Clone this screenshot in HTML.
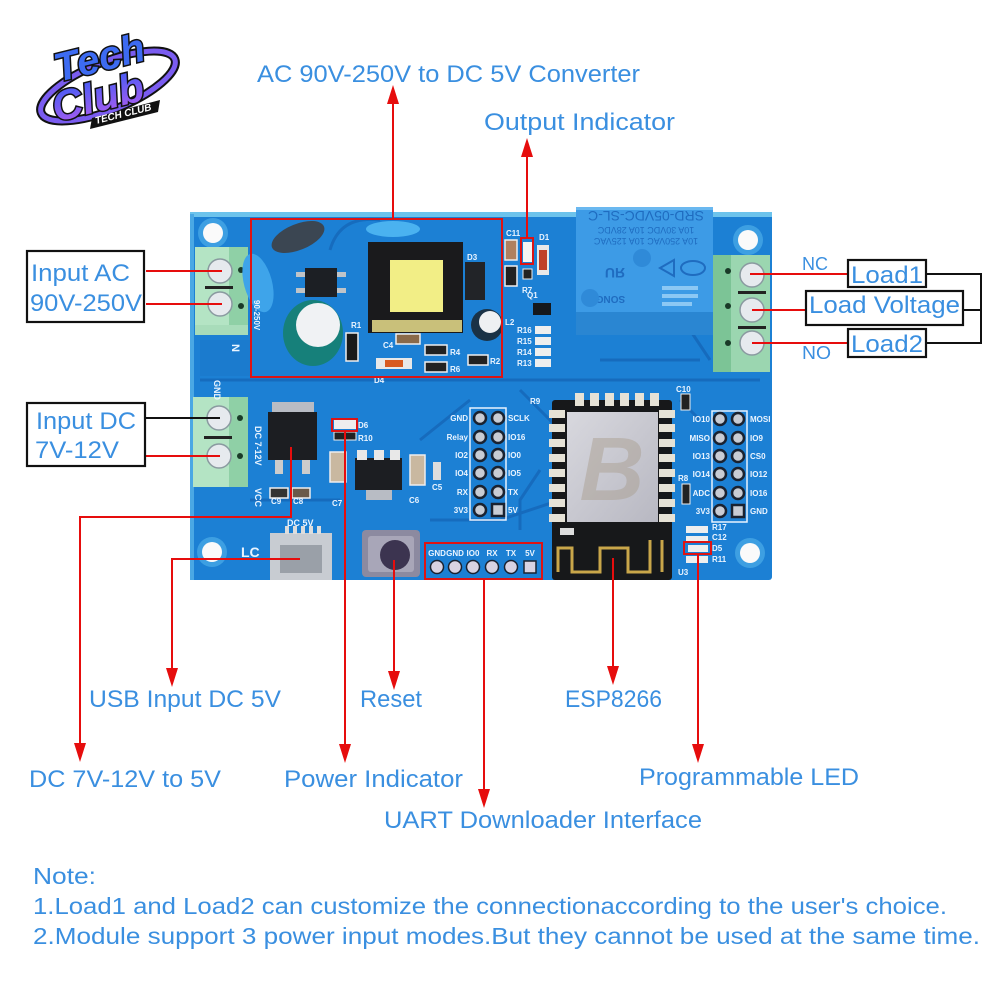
<!DOCTYPE html>
<html><head><meta charset="utf-8"><style>
html,body{margin:0;padding:0;background:#fff;}
svg{display:block;}
.lb{font-family:"Liberation Sans",sans-serif;fill:#3a8fe0;}
.sk{font-family:"Liberation Sans",sans-serif;fill:#eaf4ff;font-weight:bold;font-size:8px;}
</style></head><body>
<svg width="1000" height="1000" viewBox="0 0 1000 1000" xmlns="http://www.w3.org/2000/svg">
<defs>
<linearGradient id="lg" x1="0" y1="0" x2="0" y2="1"><stop offset="0" stop-color="#3b5cf5"/><stop offset="1" stop-color="#b05cf0"/></linearGradient>
<linearGradient id="sh" x1="0" y1="0" x2="1" y2="1"><stop offset="0" stop-color="#d8d8de"/><stop offset="1" stop-color="#b8b8c2"/></linearGradient>
</defs>
<rect width="1000" height="1000" fill="#fff"/>

<!-- Logo -->
<g>
<ellipse cx="108" cy="86" rx="72" ry="24" transform="rotate(-22 108 86)" fill="none" stroke="#111" stroke-width="9"/>
<ellipse cx="108" cy="86" rx="72" ry="24" transform="rotate(-22 108 86)" fill="none" stroke="#7a5cf0" stroke-width="5"/>
<text x="58" y="82" transform="rotate(-14 58 82)" font-family="Liberation Sans,sans-serif" font-weight="bold" font-style="italic" font-size="40" fill="#3d6bf2" stroke="#111" stroke-width="3" paint-order="stroke">Tech</text>
<text x="56" y="122" transform="rotate(-14 56 122)" font-family="Liberation Sans,sans-serif" font-weight="bold" font-style="italic" font-size="42" fill="url(#lg)" stroke="#111" stroke-width="3" paint-order="stroke">Club</text>
<polygon points="92,118 160,100 158,112 90,129" fill="#111"/>
<text x="96" y="124" transform="rotate(-14 96 124)" font-family="Liberation Sans,sans-serif" font-weight="bold" font-style="italic" font-size="10" fill="#fff">TECH CLUB</text>
</g>

<!-- Board -->
<rect x="190" y="214" width="582" height="366" rx="3" fill="#1c80d4"/>
<rect x="190" y="212" width="582" height="5" fill="#6cc3ec"/>
<rect x="190" y="214" width="4" height="366" fill="#4aa8e4"/>
<!-- traces -->
<g stroke="#1566b8" stroke-width="3" fill="none" opacity="0.8">
<path d="M200,380 L760,380"/>
<path d="M330,250 Q340,215 380,220"/>
<path d="M520,390 L560,430 L600,430"/>
<path d="M420,440 L470,400"/>
<path d="M540,470 L520,500 L520,530"/>
<path d="M680,400 L700,420"/>
<path d="M600,360 L700,360"/>
<path d="M250,500 L340,500"/>
<path d="M560,500 L500,520 L430,520"/>
<path d="M690,330 L710,360"/>
</g>
<rect x="200" y="340" width="50" height="36" fill="#1a76c8" opacity="0.5"/>

<!-- mounting holes -->
<g>
<circle cx="213" cy="233" r="15" fill="#3d9fe2"/><circle cx="213" cy="233" r="10" fill="#fafafa"/>
<circle cx="748" cy="240" r="15" fill="#3d9fe2"/><circle cx="748" cy="240" r="10" fill="#fafafa"/>
<circle cx="212" cy="552" r="15" fill="#3d9fe2"/><circle cx="212" cy="552" r="10" fill="#fafafa"/>
<circle cx="750" cy="553" r="15" fill="#3d9fe2"/><circle cx="750" cy="553" r="10" fill="#fafafa"/>
</g>

<!-- Left AC terminal -->
<g>
<rect x="195" y="247" width="53" height="88" fill="#8fd0a6"/>
<rect x="195" y="247" width="34" height="88" fill="#b4e4c4"/>
<rect x="195" y="325" width="53" height="10" fill="#a8dcba"/>
<circle cx="220" cy="271" r="12" fill="#e6eaee" stroke="#8a9aa0" stroke-width="1.5"/>
<circle cx="220" cy="304" r="12" fill="#e6eaee" stroke="#8a9aa0" stroke-width="1.5"/>
<rect x="205" y="286" width="28" height="3" fill="#222"/>
<circle cx="241" cy="270" r="3" fill="#1a3a28"/><circle cx="241" cy="306" r="3" fill="#1a3a28"/>
</g>
<!-- DC terminal -->
<g>
<rect x="193" y="397" width="55" height="90" fill="#8fd0a6"/>
<rect x="193" y="397" width="36" height="90" fill="#b4e4c4"/>
<circle cx="219" cy="418" r="12" fill="#e6eaee" stroke="#8a9aa0" stroke-width="1.5"/>
<circle cx="219" cy="456" r="12" fill="#e6eaee" stroke="#8a9aa0" stroke-width="1.5"/>
<rect x="204" y="436" width="28" height="3" fill="#222"/>
<circle cx="240" cy="418" r="3" fill="#1a3a28"/><circle cx="240" cy="456" r="3" fill="#1a3a28"/>
</g>
<!-- Right terminal -->
<g>
<rect x="713" y="255" width="57" height="117" fill="#9bd6b0"/>
<rect x="713" y="255" width="18" height="117" fill="#7cc496"/>
<circle cx="752" cy="275" r="12" fill="#e6eaee" stroke="#8a9aa0" stroke-width="1.5"/>
<circle cx="752" cy="310" r="12" fill="#e6eaee" stroke="#8a9aa0" stroke-width="1.5"/>
<circle cx="752" cy="343" r="12" fill="#e6eaee" stroke="#8a9aa0" stroke-width="1.5"/>
<rect x="738" y="291" width="28" height="3" fill="#222"/>
<rect x="738" y="326" width="28" height="3" fill="#222"/>
<circle cx="728" cy="271" r="3" fill="#1a3a28"/><circle cx="728" cy="306" r="3" fill="#1a3a28"/><circle cx="728" cy="343" r="3" fill="#1a3a28"/>
</g>

<!-- Relay -->
<g>
<rect x="576" y="207" width="137" height="128" fill="#3d9be6"/>
<rect x="576" y="312" width="137" height="23" fill="#2a86d2"/>
<rect x="576" y="207" width="137" height="3" fill="#6ab8f0"/>
<g font-family="Liberation Sans,sans-serif" fill="#1f6cc0" text-anchor="middle">
<text transform="translate(646,211) rotate(180)" font-size="14">SRD-05VDC-SL-C</text>
<text transform="translate(646,227) rotate(180)" font-size="9">10A 30VDC 10A 28VDC</text>
<text transform="translate(646,238) rotate(180)" font-size="9">10A 250VAC 10A 125VAC</text>
<text transform="translate(604,296) rotate(180)" font-size="10" font-weight="bold">SONGLE</text>
</g>
<ellipse cx="693" cy="268" rx="12" ry="7" fill="none" stroke="#1f6cc0" stroke-width="2"/>
<polygon points="660,268 674,260 674,276" fill="none" stroke="#1f6cc0" stroke-width="2"/>
<text transform="translate(625,268) rotate(180)" font-family="Liberation Sans,sans-serif" font-size="14" font-weight="bold" fill="#1f6cc0">ЯU</text>
<circle cx="642" cy="258" r="9" fill="#2f8ad8"/>
<circle cx="590" cy="298" r="9" fill="#2f8ad8"/>
<g fill="#8cc8f4"><rect x="662" y="286" width="36" height="4"/><rect x="662" y="294" width="36" height="4"/><rect x="662" y="302" width="30" height="4"/></g>
</g>

<!-- Converter components -->
<g>
<ellipse cx="298" cy="237" rx="28" ry="13" transform="rotate(-22 298 237)" fill="#3b4652"/>
<ellipse cx="258" cy="283" rx="14" ry="30" transform="rotate(-15 258 283)" fill="#3ea4ea"/>
<ellipse cx="393" cy="229" rx="27" ry="8" fill="#4ab2f0"/>
<rect x="305" y="268" width="32" height="29" fill="#1c1f24"/>
<g fill="#c0c4c8"><rect x="296" y="272" width="9" height="5"/><rect x="296" y="288" width="9" height="5"/><rect x="337" y="272" width="9" height="5"/><rect x="337" y="288" width="9" height="5"/></g>
<ellipse cx="313" cy="333" rx="30" ry="33" fill="#16807a"/>
<circle cx="318" cy="325" r="22" fill="#f0f2f4"/>
<rect x="368" y="242" width="95" height="91" fill="#1a1a1c"/>
<rect x="372" y="320" width="90" height="12" fill="#c9c07a"/>
<rect x="390" y="260" width="53" height="52" fill="#f2ee86"/>
<rect x="465" y="262" width="20" height="38" fill="#222428"/>
<circle cx="487" cy="325" r="16" fill="#1a3246"/>
<circle cx="490" cy="322" r="11" fill="#eef0f2"/>
<rect x="346" y="333" width="12" height="28" fill="#1a1a1a" stroke="#eee" stroke-width="1.5"/>
<rect x="376" y="358" width="36" height="11" fill="#e8e8e8"/>
<rect x="385" y="360" width="18" height="7" fill="#d85a20"/>
<rect x="425" y="345" width="22" height="10" fill="#222" stroke="#eee" stroke-width="1.5"/>
<rect x="425" y="362" width="22" height="10" fill="#222" stroke="#eee" stroke-width="1.5"/>
<rect x="468" y="355" width="20" height="10" fill="#222" stroke="#eee" stroke-width="1.5"/>
<rect x="396" y="334" width="24" height="10" fill="#8a6a4a" stroke="#eee" stroke-width="1.5"/>
</g>
<g class="sk" font-size="8">
<text x="351" y="328">R1</text><text x="383" y="348">C4</text><text x="374" y="383">D4</text>
<text x="450" y="355">R4</text><text x="450" y="372">R6</text><text x="490" y="364">R2</text>
<text x="467" y="260">D3</text><text x="506" y="236">C11</text><text x="539" y="240">D1</text>
<text x="505" y="325">L2</text>
</g>

<!-- small parts near relay -->
<g>
<rect x="505" y="240" width="12" height="20" fill="#b08060" stroke="#eee" stroke-width="1.5"/>
<rect x="505" y="266" width="12" height="20" fill="#222" stroke="#eee" stroke-width="1.5"/>
<rect x="523" y="242" width="9" height="20" fill="#f4f4f4"/>
<rect x="523" y="269" width="9" height="10" fill="#222" stroke="#eee" stroke-width="1"/>
<rect x="537" y="245" width="12" height="30" fill="#e8e8e8"/>
<rect x="539" y="250" width="8" height="20" fill="#c0402a"/>
<rect x="533" y="303" width="18" height="12" fill="#15181c"/>
<g fill="#eee"><rect x="535" y="326" width="16" height="8"/><rect x="535" y="337" width="16" height="8"/><rect x="535" y="348" width="16" height="8"/><rect x="535" y="359" width="16" height="8"/></g>
</g>
<g class="sk"><text x="517" y="333">R16</text><text x="517" y="344">R15</text><text x="517" y="355">R14</text><text x="517" y="366">R13</text><text x="527" y="298">Q1</text><text x="522" y="293">R7</text><text x="676" y="392">C10</text></g>
<rect x="681" y="394" width="9" height="16" fill="#222" stroke="#eee" stroke-width="1"/>

<!-- Regulator 78M05 -->
<g>
<rect x="272" y="402" width="42" height="18" fill="#b8bcc4"/>
<rect x="268" y="412" width="49" height="48" fill="#1c1e22"/>
<rect x="275" y="460" width="8" height="14" fill="#ccc"/><rect x="302" y="460" width="8" height="14" fill="#ccc"/>
<rect x="270" y="488" width="18" height="10" fill="#333" stroke="#eee" stroke-width="1.5"/>
<rect x="292" y="488" width="18" height="10" fill="#6a5a4a" stroke="#eee" stroke-width="1.5"/>
<rect x="330" y="452" width="16" height="30" fill="#c9b8a0" stroke="#eee" stroke-width="1.5"/>
<rect x="355" y="458" width="47" height="32" fill="#1c1e22"/>
<g fill="#e8e8e8"><rect x="357" y="450" width="10" height="10"/><rect x="374" y="450" width="10" height="10"/><rect x="390" y="450" width="10" height="10"/></g>
<rect x="366" y="490" width="26" height="10" fill="#b8bcc4"/>
<rect x="410" y="455" width="15" height="30" fill="#c9b8a0" stroke="#eee" stroke-width="1.5"/>
<rect x="433" y="462" width="8" height="18" fill="#ddd"/>
<rect x="334" y="420" width="22" height="9" fill="#eee"/>
<rect x="334" y="432" width="22" height="8" fill="#222" stroke="#eee" stroke-width="1"/>
</g>
<g class="sk">
<text x="271" y="504">C9</text><text x="293" y="504">C8</text><text x="332" y="506">C7</text><text x="409" y="503">C6</text><text x="432" y="490">C5</text>
<text x="358" y="428">D6</text><text x="358" y="441">R10</text>
<text x="287" y="526" font-size="9">DC 5V</text>
<text x="241" y="557" font-size="14">LC</text>
<text transform="translate(255,426) rotate(90)" font-size="9">DC 7-12V</text>
<text transform="translate(255,488) rotate(90)" font-size="9">VCC</text>
<text transform="translate(214,380) rotate(90)" font-size="9">GND</text>
<text transform="translate(232,344) rotate(90)" font-size="11">N</text>
<text transform="translate(254,300) rotate(90)" font-size="8">90-250V</text>
</g>

<!-- USB -->
<rect x="270" y="533" width="62" height="47" fill="#c8ccd2"/>
<rect x="280" y="545" width="42" height="28" fill="#9aa0a8"/>
<g fill="#ddd"><rect x="285" y="526" width="4" height="8"/><rect x="293" y="526" width="4" height="8"/><rect x="301" y="526" width="4" height="8"/><rect x="309" y="526" width="4" height="8"/><rect x="317" y="526" width="4" height="8"/></g>
<!-- Reset button -->
<rect x="362" y="530" width="58" height="47" rx="4" fill="#8c8aa0"/>
<rect x="368" y="536" width="46" height="36" rx="3" fill="#a8a6b8"/>
<circle cx="395" cy="555" r="15" fill="#3c3450"/>

<!-- Left header -->
<rect x="470" y="408" width="36" height="112" fill="none" stroke="#e8f2ff" stroke-width="1.5"/>
<g fill="#c8ccd4" stroke="#1a2230" stroke-width="2.5">
<circle cx="480" cy="418" r="6"/><circle cx="498" cy="418" r="6"/>
<circle cx="480" cy="437" r="6"/><circle cx="498" cy="437" r="6"/>
<circle cx="480" cy="455" r="6"/><circle cx="498" cy="455" r="6"/>
<circle cx="480" cy="473" r="6"/><circle cx="498" cy="473" r="6"/>
<circle cx="480" cy="492" r="6"/><circle cx="498" cy="492" r="6"/>
<circle cx="480" cy="510" r="6"/><rect x="492" y="504" width="12" height="12"/>
</g>
<g class="sk" text-anchor="end">
<text x="468" y="421">GND</text><text x="468" y="440">Relay</text><text x="468" y="458">IO2</text><text x="468" y="476">IO4</text><text x="468" y="495">RX</text><text x="468" y="513">3V3</text>
</g>
<g class="sk">
<text x="508" y="421">SCLK</text><text x="508" y="440">IO16</text><text x="508" y="458">IO0</text><text x="508" y="476">IO5</text><text x="508" y="495">TX</text><text x="508" y="513">5V</text>
<text x="530" y="404">R9</text>
</g>

<!-- Right header -->
<rect x="712" y="411" width="35" height="111" fill="none" stroke="#e8f2ff" stroke-width="1.5"/>
<g fill="#c8ccd4" stroke="#1a2230" stroke-width="2.5">
<circle cx="720" cy="419" r="6"/><circle cx="738" cy="419" r="6"/>
<circle cx="720" cy="438" r="6"/><circle cx="738" cy="438" r="6"/>
<circle cx="720" cy="456" r="6"/><circle cx="738" cy="456" r="6"/>
<circle cx="720" cy="474" r="6"/><circle cx="738" cy="474" r="6"/>
<circle cx="720" cy="493" r="6"/><circle cx="738" cy="493" r="6"/>
<circle cx="720" cy="511" r="6"/><rect x="732" y="505" width="12" height="12"/>
</g>
<g class="sk" text-anchor="end">
<text x="710" y="422">IO10</text><text x="710" y="441">MISO</text><text x="710" y="459">IO13</text><text x="710" y="477">IO14</text><text x="710" y="496">ADC</text><text x="710" y="514">3V3</text>
</g>
<g class="sk">
<text x="750" y="422">MOSI</text><text x="750" y="441">IO9</text><text x="750" y="459">CS0</text><text x="750" y="477">IO12</text><text x="750" y="496">IO16</text><text x="750" y="514">GND</text>
<text x="678" y="481">R8</text>
<text x="712" y="530">R17</text><text x="712" y="540">C12</text><text x="712" y="551">D5</text><text x="712" y="562">R11</text><text x="678" y="575">U3</text>
</g>
<g fill="#eee"><rect x="686" y="526" width="22" height="7"/><rect x="686" y="536" width="22" height="7"/><rect x="688" y="545" width="20" height="7"/><rect x="686" y="556" width="22" height="7"/></g>
<rect x="682" y="484" width="8" height="20" fill="#222" stroke="#eee" stroke-width="1"/>

<!-- UART header -->
<g fill="#d8d2e2" stroke="#1a2230" stroke-width="1.5">
<circle cx="437" cy="567" r="6.5"/><circle cx="455" cy="567" r="6.5"/><circle cx="473" cy="567" r="6.5"/><circle cx="492" cy="567" r="6.5"/><circle cx="511" cy="567" r="6.5"/><rect x="524" y="561" width="12" height="12"/>
</g>
<g class="sk" text-anchor="middle">
<text x="437" y="556">GND</text><text x="455" y="556">GND</text><text x="473" y="556">IO0</text><text x="492" y="556">RX</text><text x="511" y="556">TX</text><text x="530" y="556">5V</text>
</g>

<!-- ESP8266 -->
<g>
<rect x="552" y="400" width="120" height="180" rx="3" fill="#17181a"/>
<g fill="#e6e2d6">
<rect x="575" y="393" width="9" height="13"/><rect x="590" y="393" width="9" height="13"/><rect x="605" y="393" width="9" height="13"/><rect x="620" y="393" width="9" height="13"/><rect x="635" y="393" width="9" height="13"/><rect x="650" y="393" width="9" height="13"/>
</g>
<g fill="#e6e2d6">
<rect x="549" y="410" width="16" height="8"/><rect x="549" y="424" width="16" height="8"/><rect x="549" y="439" width="16" height="8"/><rect x="549" y="454" width="16" height="8"/><rect x="549" y="469" width="16" height="8"/><rect x="549" y="484" width="16" height="8"/><rect x="549" y="499" width="16" height="8"/><rect x="549" y="514" width="16" height="8"/>
<rect x="659" y="410" width="16" height="8"/><rect x="659" y="424" width="16" height="8"/><rect x="659" y="439" width="16" height="8"/><rect x="659" y="454" width="16" height="8"/><rect x="659" y="469" width="16" height="8"/><rect x="659" y="484" width="16" height="8"/><rect x="659" y="499" width="16" height="8"/><rect x="659" y="514" width="16" height="8"/>
</g>
<rect x="567" y="412" width="91" height="110" fill="url(#sh)"/>
<text x="612" y="500" text-anchor="middle" font-family="Liberation Sans,sans-serif" font-weight="bold" font-style="italic" font-size="90" fill="#a89c8c" opacity="0.45">B</text>
<rect x="560" y="528" width="14" height="7" fill="#ddd"/>
<path d="M558,572 L558,548 L572,548 L572,572 L600,572 L600,548 L628,548 L628,572 L650,572 L650,540 M662,572 L662,540" fill="none" stroke="#c9a64a" stroke-width="3"/>
</g>

<!-- Red boxes -->
<g fill="none" stroke="#dd1414" stroke-width="2">
<rect x="251" y="219" width="251" height="158"/>
<rect x="521" y="238" width="12" height="26"/>
<rect x="332" y="419" width="25" height="12"/>
<rect x="425" y="543" width="117" height="36"/>
<rect x="684" y="542" width="27" height="12"/>
</g>

<!-- Red lines -->
<g stroke="#e60d0d" stroke-width="2" fill="none">
<line x1="393" y1="219" x2="393" y2="100"/>
<line x1="527" y1="238" x2="527" y2="154"/>
<line x1="146" y1="271" x2="222" y2="271"/>
<line x1="146" y1="304" x2="222" y2="304"/>
<line x1="146" y1="456" x2="220" y2="456"/>
<line x1="750" y1="274" x2="848" y2="274"/>
<line x1="752" y1="310" x2="806" y2="310"/>
<line x1="752" y1="343" x2="848" y2="343"/>
<polyline points="300,559 172,559 172,672"/>
<polyline points="291,447 291,517 80,517 80,746"/>
<line x1="345" y1="431" x2="345" y2="747"/>
<line x1="394" y1="560" x2="394" y2="674"/>
<line x1="484" y1="579" x2="484" y2="792"/>
<line x1="613" y1="558" x2="613" y2="669"/>
<line x1="698" y1="554" x2="698" y2="747"/>
</g>
<g fill="#e60d0d">
<polygon points="393,85 387,104 399,104"/>
<polygon points="527,138 521,157 533,157"/>
<polygon points="172,687 166,668 178,668"/>
<polygon points="80,762 74,743 86,743"/>
<polygon points="345,763 339,744 351,744"/>
<polygon points="394,690 388,671 400,671"/>
<polygon points="484,808 478,789 490,789"/>
<polygon points="613,685 607,666 619,666"/>
<polygon points="698,763 692,744 704,744"/>
</g>

<!-- Black lines -->
<g stroke="#111" stroke-width="2" fill="none">
<line x1="146" y1="418" x2="220" y2="418"/>
<polyline points="926,274 981,274 981,343 926,343"/>
<line x1="963" y1="310" x2="981" y2="310"/>
</g>

<!-- Label boxes -->
<g fill="#fff" stroke="#111" stroke-width="2.2">
<rect x="27" y="251" width="117" height="71"/>
<rect x="27" y="403" width="118" height="63"/>
<rect x="848" y="260" width="78" height="27"/>
<rect x="806" y="291" width="157" height="34"/>
<rect x="848" y="329" width="78" height="28"/>
</g>

<!-- Labels -->
<g class="lb" font-size="24">
<text x="257" y="82" textLength="383" lengthAdjust="spacingAndGlyphs">AC 90V-250V to DC 5V Converter</text>
<text x="484" y="130" textLength="191" lengthAdjust="spacingAndGlyphs">Output Indicator</text>
<text x="31" y="281" textLength="99" lengthAdjust="spacingAndGlyphs">Input AC</text>
<text x="30" y="311" textLength="112" lengthAdjust="spacingAndGlyphs">90V-250V</text>
<text x="36" y="429" textLength="100" lengthAdjust="spacingAndGlyphs">Input DC</text>
<text x="35" y="458" textLength="84" lengthAdjust="spacingAndGlyphs">7V-12V</text>
<text x="851" y="283" textLength="72" lengthAdjust="spacingAndGlyphs">Load1</text>
<text x="809" y="313" textLength="151" lengthAdjust="spacingAndGlyphs">Load Voltage</text>
<text x="851" y="352" textLength="72" lengthAdjust="spacingAndGlyphs">Load2</text>
<text x="89" y="707" textLength="192" lengthAdjust="spacingAndGlyphs">USB Input DC 5V</text>
<text x="360" y="707" textLength="62" lengthAdjust="spacingAndGlyphs">Reset</text>
<text x="565" y="707" textLength="97" lengthAdjust="spacingAndGlyphs">ESP8266</text>
<text x="29" y="787" textLength="192" lengthAdjust="spacingAndGlyphs">DC 7V-12V to 5V</text>
<text x="284" y="787" textLength="179" lengthAdjust="spacingAndGlyphs">Power Indicator</text>
<text x="639" y="785" textLength="220" lengthAdjust="spacingAndGlyphs">Programmable LED</text>
<text x="384" y="828" textLength="318" lengthAdjust="spacingAndGlyphs">UART Downloader Interface</text>
</g>
<g class="lb" font-size="18">
<text x="802" y="270" textLength="26" lengthAdjust="spacingAndGlyphs">NC</text>
<text x="802" y="359" textLength="29" lengthAdjust="spacingAndGlyphs">NO</text>
</g>
<g class="lb" font-size="23">
<text x="33" y="884" textLength="63" lengthAdjust="spacingAndGlyphs">Note:</text>
<text x="33" y="914" textLength="914" lengthAdjust="spacingAndGlyphs">1.Load1 and Load2 can customize the connectionaccording to the user's choice.</text>
<text x="33" y="944" textLength="947" lengthAdjust="spacingAndGlyphs">2.Module support 3 power input modes.But they cannot be used at the same time.</text>
</g>
</svg>
</body></html>
